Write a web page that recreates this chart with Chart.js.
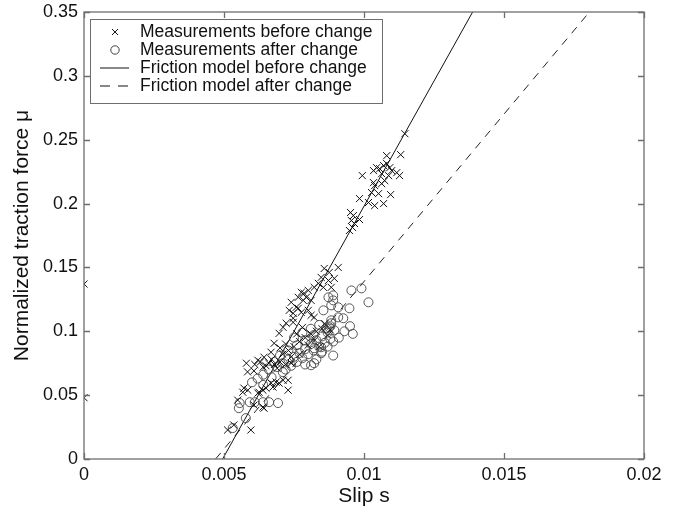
<!DOCTYPE html>
<html>
<head>
<meta charset="utf-8">
<script src="https://cdn.jsdelivr.net/npm/chart.js@4.4.1/dist/chart.umd.min.js"></script>
<style>
html,body{margin:0;padding:0;background:#fff;}
#wrap{width:681px;height:513px;position:relative;}
</style>
</head>
<body>
<div id="wrap"><canvas id="c" width="681" height="513"></canvas></div>
<script>
// ---- data ----
const xTicks = [0, 0.005, 0.01, 0.015, 0.02];
const yTicks = [0, 0.05, 0.1, 0.15, 0.2, 0.25, 0.3, 0.35];
const legendLabels = ["Measurements before change", "Measurements after change", "Friction model before change", "Friction model after change"];

const beforeChange = [
  [0,0.137],[0,0.048],
  [0.01146,0.2547],[0.01081,0.2375],[0.01131,0.2383],[0.00994,0.2219],
  [0.01034,0.2258],[0.01045,0.2281],[0.01056,0.2273],[0.0107,0.2297],[0.01081,0.2313],[0.01092,0.2281],[0.01099,0.2258],[0.01117,0.2242],[0.01127,0.2219],[0.01088,0.2219],[0.01063,0.2234],
  [0.01034,0.2164],[0.01038,0.2141],[0.01063,0.2156],[0.01074,0.2180],
  [0.00984,0.2039],[0.01016,0.2008],[0.01038,0.1984],[0.0107,0.2],[0.01095,0.207],[0.01052,0.2078],[0.01027,0.2086],
  [0.00952,0.193],[0.00962,0.1906],[0.00955,0.1867],[0.00966,0.1844],[0.00984,0.1875],[0.00959,0.1813],[0.00948,0.1789],
  [0.00858,0.1492],[0.00908,0.15],[0.00847,0.1422],[0.00873,0.1398],[0.00894,0.1414],[0.00837,0.1375],[0.00822,0.1344],[0.00883,0.1344],[0.00801,0.132],[0.00786,0.1297],[0.00783,0.1242],
  [0.00876,0.1461],[0.00855,0.1344],[0.00776,0.1305],[0.00794,0.1266],[0.00765,0.1266],[0.0074,0.1227],[0.00758,0.1188],[0.00733,0.1164],[0.00776,0.1148],[0.00801,0.1164],[0.00811,0.1125],[0.00822,0.1109],[0.00747,0.1102],
  [0.00811,0.1242],[0.00747,0.1141],[0.00765,0.118],[0.00722,0.1063],[0.00747,0.107],[0.00711,0.1031],[0.00697,0.0984],[0.00679,0.0906],[0.00668,0.0836],[0.00643,0.0797],[0.00621,0.0773],
  [0.0058,0.075],[0.0061,0.074],[0.0063,0.076],[0.0065,0.073],[0.0066,0.075],[0.0068,0.074],[0.007,0.076],[0.0072,0.074],[0.0074,0.075],[0.0067,0.078],[0.0064,0.072],[0.0069,0.071],
  [0.0071,0.082],[0.0073,0.085],[0.0075,0.088],[0.0077,0.092],[0.0079,0.095],[0.0081,0.098],[0.0083,0.1],[0.0076,0.098],[0.0072,0.09],[0.007,0.087],[0.0078,0.103],[0.0085,0.102],[0.0087,0.097],[0.0082,0.094],[0.008,0.089],[0.0084,0.088],[0.0074,0.08],[0.0077,0.082],[0.0086,0.106],[0.0088,0.101],
  [0.00584,0.0682],[0.00607,0.069],[0.00571,0.0555],[0.00585,0.0539],[0.00567,0.0523],[0.00625,0.0523],[0.00639,0.0539],[0.00621,0.0516],[0.0065,0.0555],[0.00668,0.0594],[0.00686,0.0602],[0.00697,0.0594],[0.00675,0.0563],[0.00729,0.0539],[0.00711,0.0617],[0.00729,0.0617],
  [0.00549,0.0461],[0.00607,0.0422],[0.00639,0.0406],[0.00643,0.0398],
  [0.00513,0.0227],[0.00596,0.0227],[0.00535,0.0266]
];

const afterChange = [
  [0.00556,0.0438],[0.00592,0.0445],[0.0061,0.0445],[0.00639,0.0445],[0.00661,0.0445],[0.00693,0.0438],[0.00553,0.0398],[0.00578,0.032],[0.00531,0.0242],
  [0.0089,0.1281],[0.0089,0.1242],[0.00955,0.132],[0.00991,0.1336],[0.01016,0.1227],[0.00855,0.1164],[0.00908,0.1188],[0.00948,0.118],[0.00926,0.1102],[0.00883,0.1086],[0.0093,0.1],[0.00876,0.1031],[0.00894,0.1008],[0.00847,0.0828],[0.00822,0.075],[0.00811,0.0734],[0.00873,0.1266],[0.00883,0.1203],[0.00908,0.1109],[0.00883,0.1063],[0.00865,0.1023],[0.00847,0.0875],[0.00822,0.0867],
  [0.0069,0.072],[0.0071,0.075],[0.0073,0.078],[0.0075,0.08],[0.0077,0.083],[0.0079,0.086],[0.0081,0.09],[0.0083,0.093],[0.0085,0.096],[0.0087,0.099],[0.0076,0.076],[0.0078,0.079],[0.008,0.082],[0.0082,0.085],[0.0084,0.088],[0.0086,0.091],[0.0088,0.094],[0.0074,0.073],[0.0079,0.074],[0.0083,0.078],[0.0072,0.07],[0.0068,0.076],[0.007,0.081],[0.0073,0.085],[0.0076,0.089],[0.0079,0.093],[0.0082,0.097],[0.0085,0.084],[0.0087,0.088],[0.0089,0.092],[0.0091,0.095],[0.0088,0.104],[0.0075,0.095],[0.0078,0.099],[0.0081,0.102],[0.0084,0.105],[0.0066,0.07],[0.0064,0.066],[0.0062,0.063],[0.006,0.06],[0.0064,0.058],[0.0067,0.064],[0.0071,0.068],[0.0089,0.081],[0.0096,0.098],[0.0095,0.104]
];

const modelBefore = [[0.00495,0],[0.01388,0.35]];
const modelAfter = [[0.0047,0],[0.01805,0.35]];

// ---- chart ----
const toXY = a => a.map(p => ({x:p[0], y:p[1]}));
const FONT = "'Liberation Sans', Arial, sans-serif";
const AXIS = '#6e6e6e';

function fmt(v){ return String(Number(v.toFixed(4))); }

const frameAndLegend = {
  id:'frameAndLegend',
  afterDraw(chart){
    const ctx = chart.ctx, a = chart.chartArea;
    const xs = chart.scales.x, ys = chart.scales.y;
    ctx.save();
    ctx.strokeStyle = AXIS; ctx.lineWidth = 1.3;
    ctx.strokeRect(a.left, a.top, a.right-a.left, a.bottom-a.top);
    ctx.beginPath();
    xTicks.forEach(v => {
      const p = Math.round(xs.getPixelForValue(v))+0.5;
      ctx.moveTo(p, a.bottom); ctx.lineTo(p, a.bottom-6);
      ctx.moveTo(p, a.top); ctx.lineTo(p, a.top+6);
    });
    yTicks.forEach(v => {
      const p = Math.round(ys.getPixelForValue(v))+0.5;
      ctx.moveTo(a.left, p); ctx.lineTo(a.left+6, p);
      ctx.moveTo(a.right, p); ctx.lineTo(a.right-6, p);
    });
    ctx.stroke();

    // legend box
    const bx = a.left+6, by = a.top+7, bw = 292, bh = 84;
    ctx.fillStyle = '#fff';
    ctx.fillRect(bx, by, bw, bh);
    ctx.strokeStyle = AXIS; ctx.lineWidth = 1;
    ctx.strokeRect(bx+0.5, by+0.5, bw, bh);
    const rows = [by+13, by+31, by+49, by+67];
    ctx.font = '17.5px ' + FONT;
    ctx.fillStyle = '#111';
    ctx.textBaseline = 'middle';
    ctx.textAlign = 'left';
    legendLabels.forEach((t,i) => ctx.fillText(t, bx+50, rows[i]));
    const mx = bx+25;
    ctx.strokeStyle = '#111'; ctx.lineWidth = 1;
    ctx.beginPath();
    ctx.moveTo(mx-3, rows[0]-3); ctx.lineTo(mx+3, rows[0]+3);
    ctx.moveTo(mx+3, rows[0]-3); ctx.lineTo(mx-3, rows[0]+3);
    ctx.stroke();
    ctx.strokeStyle = '#444';
    ctx.beginPath(); ctx.arc(mx, rows[1], 4.2, 0, Math.PI*2); ctx.stroke();
    ctx.strokeStyle = '#111';
    ctx.beginPath(); ctx.moveTo(bx+10, rows[2]); ctx.lineTo(bx+39, rows[2]); ctx.stroke();
    ctx.setLineDash([10,8]);
    ctx.beginPath(); ctx.moveTo(bx+10, rows[3]); ctx.lineTo(bx+39, rows[3]); ctx.stroke();
    ctx.restore();
  }
};

new Chart(document.getElementById('c'), {
  type:'scatter',
  data:{
    datasets:[
      {label:legendLabels[0], data:toXY(beforeChange), pointStyle:'crossRot', pointRadius:5, borderColor:'#111', backgroundColor:'#111', borderWidth:1, showLine:false},
      {label:legendLabels[1], data:toXY(afterChange), pointStyle:'circle', pointRadius:4.5, borderColor:'#555', backgroundColor:'rgba(0,0,0,0)', borderWidth:1, showLine:false},
      {label:legendLabels[2], type:'line', data:toXY(modelBefore), borderColor:'#111', borderWidth:1, pointRadius:0, showLine:true, fill:false},
      {label:legendLabels[3], type:'line', data:toXY(modelAfter), borderColor:'#222', borderWidth:1, borderDash:[8,7], pointRadius:0, showLine:true, fill:false}
    ]
  },
  options:{
    responsive:false, animation:false, devicePixelRatio:1,
    layout:{padding:{top:12, right:37, left:0, bottom:0}},
    plugins:{legend:{display:false}, tooltip:{enabled:false}},
    scales:{
      x:{type:'linear', min:0, max:0.02,
        afterBuildTicks: s => { s.ticks = xTicks.map(v => ({value:v})); },
        afterFit: s => { s.height = 54; s.paddingLeft = 0; s.paddingRight = 0; },
        grid:{display:false, drawTicks:false},
        border:{display:false},
        ticks:{callback:v => fmt(v), color:'#111', font:{family:FONT, size:18}, padding:5, maxRotation:0},
        title:{display:true, text:'Slip s', color:'#111', font:{family:FONT, size:21}, padding:{top:6}}
      },
      y:{type:'linear', min:0, max:0.35,
        afterBuildTicks: s => { s.ticks = yTicks.map(v => ({value:v})); },
        afterFit: s => { s.width = 84; s.paddingTop = 0; s.paddingBottom = 0; },
        grid:{display:false, drawTicks:false},
        border:{display:false},
        ticks:{callback:v => fmt(v), color:'#111', font:{family:FONT, size:18}, padding:6},
        title:{display:true, text:'Normalized traction force μ', color:'#111', font:{family:FONT, size:21}, padding:{top:10, bottom:4}}
      }
    }
  },
  plugins:[frameAndLegend]
});
</script>
</body>
</html>
